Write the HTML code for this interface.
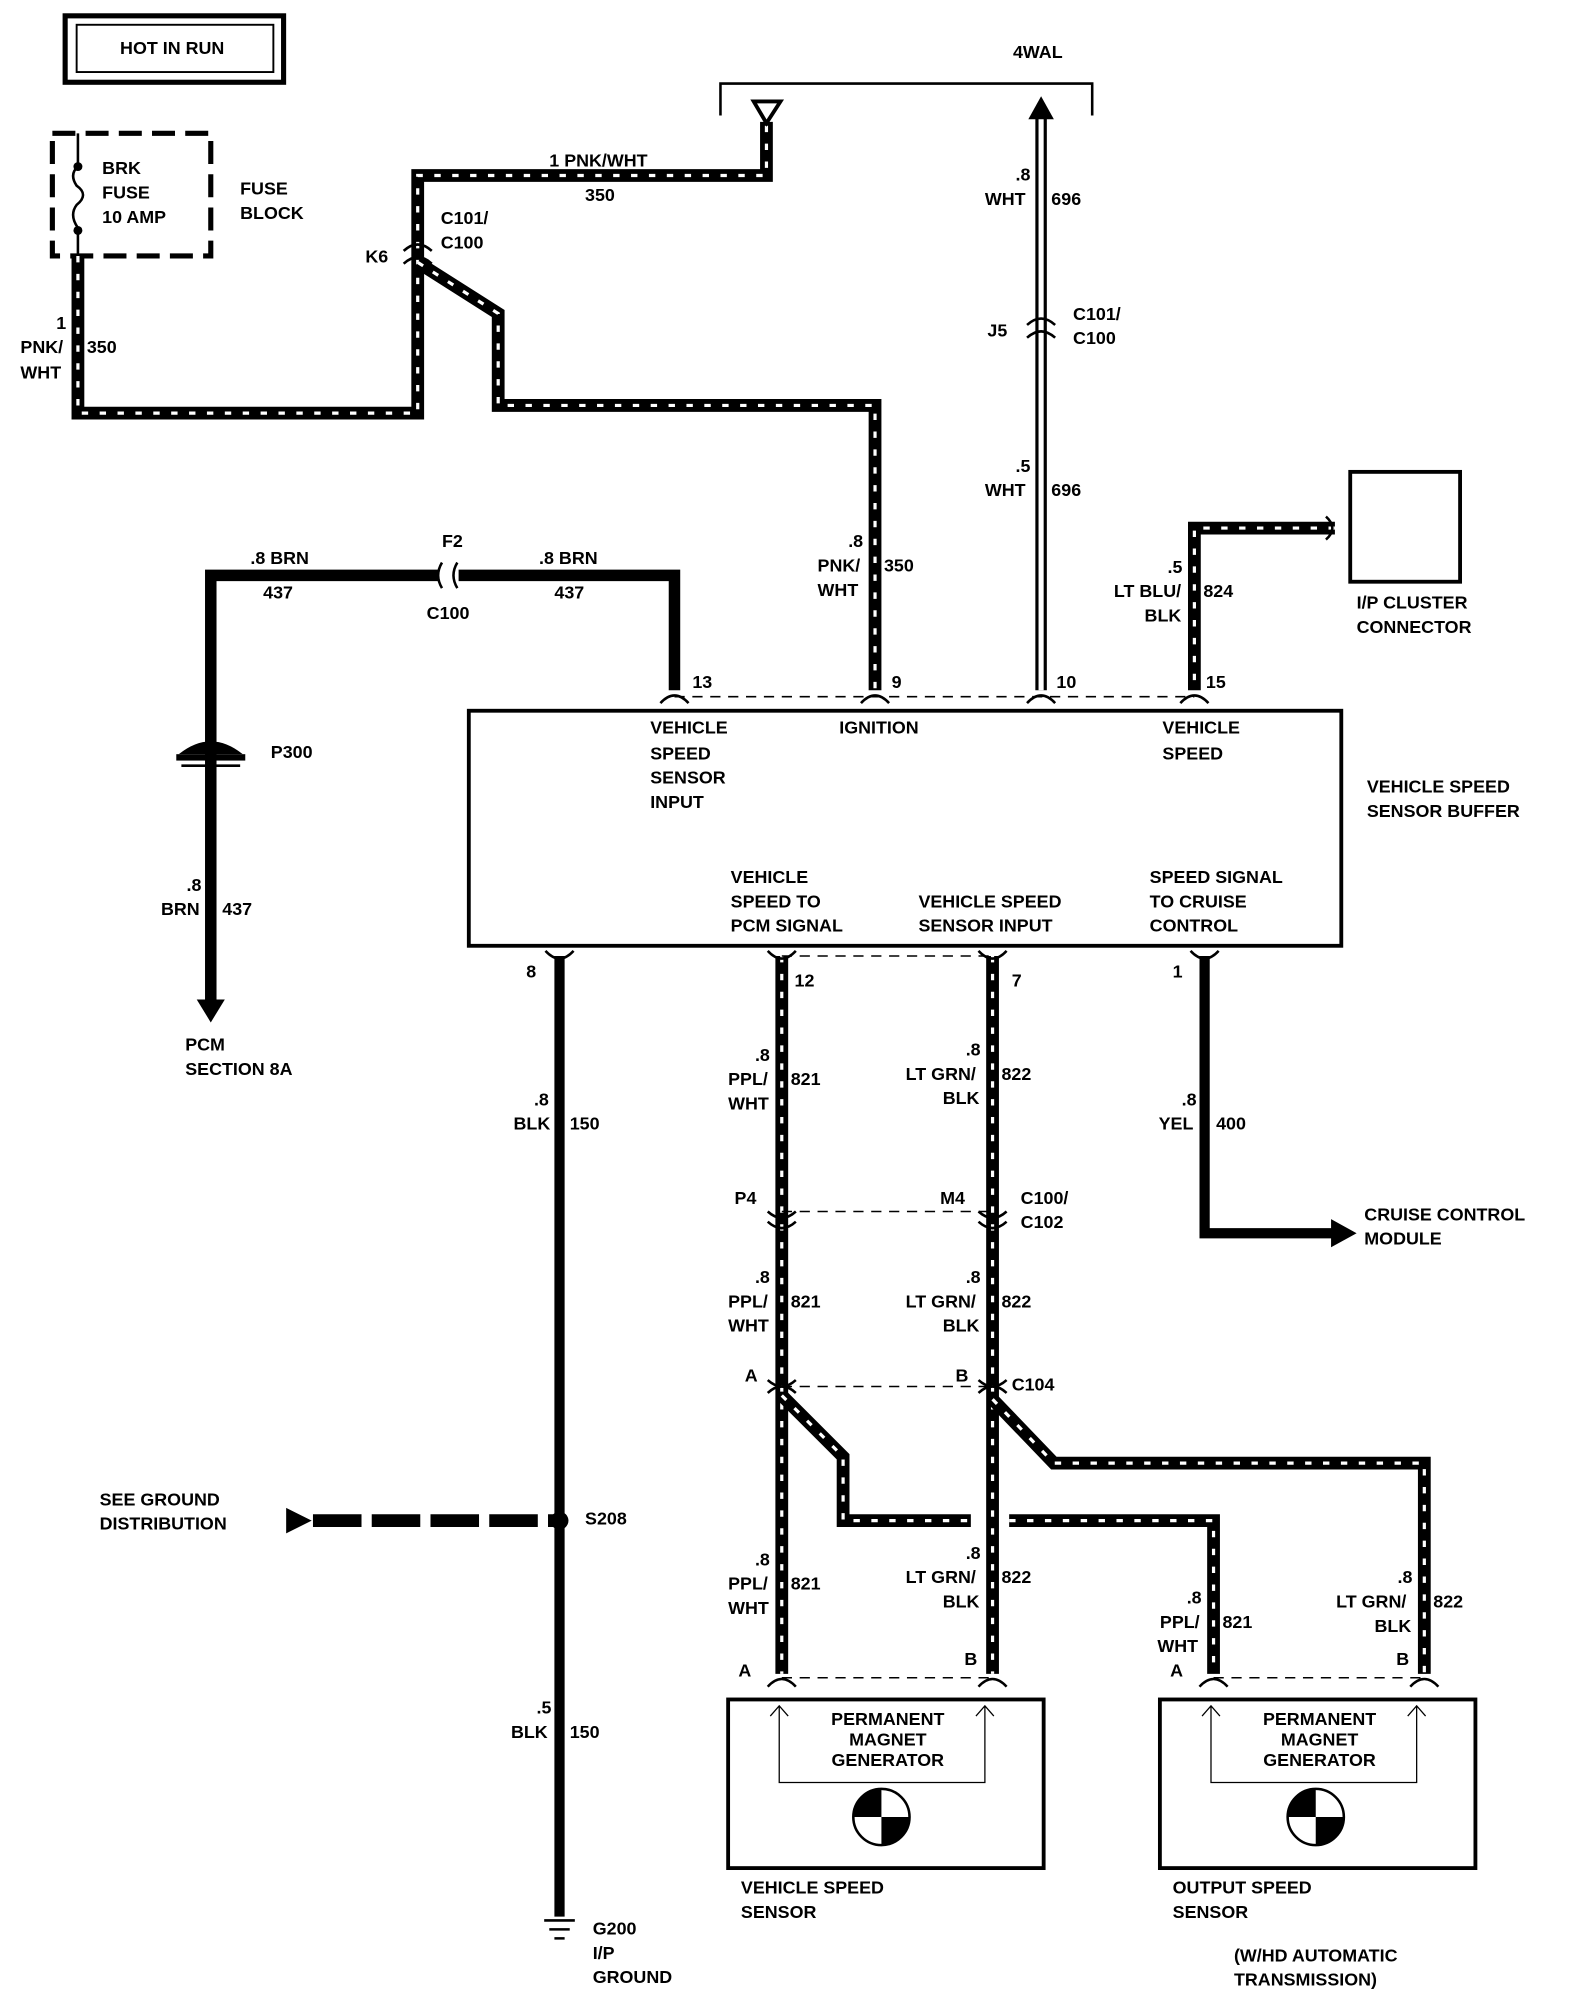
<!DOCTYPE html>
<html><head><meta charset="utf-8"><style>
html,body{margin:0;padding:0;background:#fff}
svg{display:block}
text{font-family:"Liberation Sans",Arial,sans-serif;font-size:14px;font-weight:bold;fill:#000}
.w{fill:none;stroke:#000;stroke-width:10;stroke-linejoin:miter}
.s{fill:none;stroke:#fff;stroke-width:2.5;stroke-dasharray:5 9}
.t{fill:none;stroke:#000;stroke-width:2}
.d{fill:none;stroke:#000;stroke-width:1.2;stroke-dasharray:8 6}
</style></head><body>
<svg width="1584" height="2004" viewBox="0 0 1240 1568" xmlns="http://www.w3.org/2000/svg">
<defs>
<path id="p350a" d="M61 200 V323 H327 V137 H600 V95"/>
<path id="p350b" d="M327 205 L390 245 V317 H685 V540"/>
<path id="p824" d="M1045 413 H935 V540"/>
<path id="p821" d="M612 748 V1310"/>
<path id="p822" d="M777 748 V1310"/>
<path id="p821b" d="M612 1092 L660 1140 V1190 H760"/>
<path id="p821c" d="M790 1190 H950 V1310"/>
<path id="p822b" d="M777 1095 L825 1145 H1115 V1310"/>
</defs>
<rect x="51" y="12" width="171" height="52" fill="none" stroke="#000" stroke-width="4"/>
<rect x="60" y="19" width="154" height="37" fill="none" stroke="#000" stroke-width="1.5"/>
<text x="94" y="42">HOT IN RUN</text>
<rect x="41" y="104" width="124" height="96" fill="none" stroke="#000" stroke-width="4" stroke-dasharray="18 8"/>
<path class="t" d="M61 104 V130 Q54 136 60 145 Q70 152 60 160 Q54 168 61 178 V200" />
<circle cx="61" cy="130" r="3.5"/><circle cx="61" cy="180" r="3.5"/>
<text x="80" y="136">BRK</text><text x="80" y="155">FUSE</text><text x="80" y="174">10 AMP</text>
<text x="188" y="152">FUSE</text><text x="188" y="171">BLOCK</text>
<path class="t" d="M564 90 V65 H855 V90" stroke-width="1.5"/>
<text x="793" y="45">4WAL</text>
<g>
<use href="#p350a" class="w"/><use href="#p350a" class="s"/>
<use href="#p350b" class="w"/><use href="#p350b" class="s"/>
<use href="#p824" class="w"/><use href="#p824" class="s"/>
<use href="#p821" class="w"/><use href="#p821" class="s"/>
<use href="#p822" class="w"/><use href="#p822" class="s"/>
<use href="#p821b" class="w"/><use href="#p821b" class="s"/>
<use href="#p821c" class="w"/><use href="#p821c" class="s"/>
<use href="#p822b" class="w"/><use href="#p822b" class="s"/>
</g>
<polygon points="590,79 611,79 600,96" fill="#fff" stroke="#000" stroke-width="3"/>
<text x="430" y="130">1 PNK/WHT</text><text x="458" y="157">350</text>
<text x="44" y="257">1</text><text x="16" y="276">PNK/</text><text x="16" y="296">WHT</text><text x="68" y="276">350</text>
<path class="t" d="M316 196 Q327 186 338 196 M316 206 Q327 196 338 206" stroke-width="2.5"/>
<text x="286" y="205">K6</text><text x="345" y="175">C101/</text><text x="345" y="194">C100</text>
<path d="M815 90 V540" stroke="#000" stroke-width="9" fill="none"/>
<path d="M815 88 V540" stroke="#fff" stroke-width="4" fill="none"/>
<polygon points="805,93 825,93 815,75" fill="#000"/>
<path class="t" d="M804 254 Q815 244 826 254 M804 264 Q815 254 826 264" stroke-width="2.5"/>
<text x="795" y="141">.8</text><text x="771" y="160">WHT</text><text x="823" y="160">696</text>
<text x="773" y="263">J5</text><text x="840" y="250">C101/</text><text x="840" y="269">C100</text>
<text x="795" y="369">.5</text><text x="771" y="388">WHT</text><text x="823" y="388">696</text>
<text x="664" y="428">.8</text><text x="640" y="447">PNK/</text><text x="640" y="466">WHT</text><text x="692" y="447">350</text>
<rect x="1057" y="369" width="86" height="86" fill="none" stroke="#000" stroke-width="3"/>
<path class="t" d="M1038 404 Q1048 413 1038 422" stroke-width="2.5"/>
<text x="1062" y="476">I/P CLUSTER</text><text x="1062" y="495">CONNECTOR</text>
<text x="914" y="448">.5</text><text x="872" y="467">LT BLU/</text><text x="896" y="486">BLK</text><text x="942" y="467">824</text>
<path d="M528 540 V450 H165 V785" stroke="#000" stroke-width="9" fill="none"/>
<polygon points="154,782 176,782 165,800" fill="#000"/>
<rect x="343" y="440" width="16" height="20" fill="#fff"/>
<path class="t" d="M346 440 Q340 450 346 460 M358 440 Q352 450 358 460" stroke-width="2.5"/>
<text x="196" y="441">.8 BRN</text><text x="206" y="468">437</text>
<text x="422" y="441">.8 BRN</text><text x="434" y="468">437</text>
<text x="346" y="428">F2</text><text x="334" y="484">C100</text>
<path d="M140 590 Q165 570 190 590 Z" fill="#000"/>
<rect x="138" y="590" width="54" height="5" fill="#000"/>
<path class="t" d="M142 599 H188" stroke-width="2"/>
<text x="212" y="593">P300</text>
<text x="146" y="697">.8</text><text x="126" y="716">BRN</text><text x="174" y="716">437</text>
<text x="145" y="822">PCM</text><text x="145" y="841">SECTION 8A</text>
<path class="d" d="M528 545 H935"/>
<g class="t" stroke-width="2.5">
<path d="M517 550 Q528 538 539 550"/><path d="M674 550 Q685 538 696 550"/>
<path d="M804 550 Q815 538 826 550"/><path d="M924 550 Q935 538 946 550"/>
</g>
<text x="542" y="538">13</text><text x="698" y="538">9</text><text x="827" y="538">10</text><text x="944" y="538">15</text>
<rect x="367" y="556" width="683" height="184" fill="none" stroke="#000" stroke-width="3"/>
<text x="509" y="574">VEHICLE</text><text x="509" y="594">SPEED</text><text x="509" y="613">SENSOR</text><text x="509" y="632">INPUT</text>
<text x="657" y="574">IGNITION</text>
<text x="910" y="574">VEHICLE</text><text x="910" y="594">SPEED</text>
<text x="572" y="691">VEHICLE</text><text x="572" y="710">SPEED TO</text><text x="572" y="729">PCM SIGNAL</text>
<text x="719" y="710">VEHICLE SPEED</text><text x="719" y="729">SENSOR INPUT</text>
<text x="900" y="691">SPEED SIGNAL</text><text x="900" y="710">TO CRUISE</text><text x="900" y="729">CONTROL</text>
<text x="1070" y="620">VEHICLE SPEED</text><text x="1070" y="639">SENSOR BUFFER</text>
<path class="d" d="M612 748 H777"/>
<g class="t" stroke-width="2.5">
<path d="M427 744 Q438 756 449 744"/><path d="M601 744 Q612 756 623 744"/>
<path d="M766 744 Q777 756 788 744"/><path d="M932 744 Q943 756 954 744"/>
</g>
<text x="412" y="765">8</text><text x="622" y="772">12</text><text x="792" y="772">7</text><text x="918" y="765">1</text>
<path d="M438 748 V1500" stroke="#000" stroke-width="8" fill="none"/>
<text x="418" y="865">.8</text><text x="402" y="884">BLK</text><text x="446" y="884">150</text>
<text x="420" y="1341">.5</text><text x="400" y="1360">BLK</text><text x="446" y="1360">150</text>
<path class="t" d="M426 1503 H450 M430 1510 H446 M434 1517 H442" stroke-width="2.5"/>
<text x="464" y="1514">G200</text><text x="464" y="1533">I/P</text><text x="464" y="1552">GROUND</text>
<path d="M245 1190 H438" stroke="#000" stroke-width="10" stroke-dasharray="38 8" fill="none"/>
<polygon points="224,1180 224,1200 244,1190" fill="#000"/>
<circle cx="438" cy="1190" r="7"/>
<text x="458" y="1193">S208</text>
<text x="78" y="1178">SEE GROUND</text><text x="78" y="1197">DISTRIBUTION</text>
<path d="M943 748 V965 H1045" stroke="#000" stroke-width="8" fill="none"/>
<polygon points="1042,954 1042,976 1062,965" fill="#000"/>
<text x="925" y="865">.8</text><text x="907" y="884">YEL</text><text x="952" y="884">400</text>
<text x="1068" y="955">CRUISE CONTROL</text><text x="1068" y="974">MODULE</text>
<text x="591" y="830">.8</text><text x="570" y="849">PPL/</text><text x="570" y="868">WHT</text><text x="619" y="849">821</text>
<text x="756" y="826">.8</text><text x="709" y="845">LT GRN/</text><text x="738" y="864">BLK</text><text x="784" y="845">822</text>
<path class="d" d="M612 948 H777"/>
<g class="t" stroke-width="2.5">
<path d="M601 948 Q612 958 623 948 M601 956 Q612 966 623 956"/>
<path d="M766 948 Q777 958 788 948 M766 956 Q777 966 788 956"/>
</g>
<text x="575" y="942">P4</text><text x="736" y="942">M4</text><text x="799" y="942">C100/</text><text x="799" y="961">C102</text>
<text x="591" y="1004">.8</text><text x="570" y="1023">PPL/</text><text x="570" y="1042">WHT</text><text x="619" y="1023">821</text>
<text x="756" y="1004">.8</text><text x="709" y="1023">LT GRN/</text><text x="738" y="1042">BLK</text><text x="784" y="1023">822</text>
<path class="d" d="M612 1085 H777"/>
<g class="t" stroke-width="2.5">
<path d="M601 1080 Q612 1090 623 1080 M601 1090 Q612 1080 623 1090"/>
<path d="M766 1080 Q777 1090 788 1080 M766 1090 Q777 1080 788 1090"/>
</g>
<text x="583" y="1081">A</text><text x="748" y="1081">B</text><text x="792" y="1088">C104</text>
<text x="591" y="1225">.8</text><text x="570" y="1244">PPL/</text><text x="570" y="1263">WHT</text><text x="619" y="1244">821</text>
<text x="756" y="1220">.8</text><text x="709" y="1239">LT GRN/</text><text x="738" y="1258">BLK</text><text x="784" y="1239">822</text>
<text x="929" y="1255">.8</text><text x="908" y="1274">PPL/</text><text x="906" y="1293">WHT</text><text x="957" y="1274">821</text>
<text x="1094" y="1239">.8</text><text x="1046" y="1258">LT GRN/</text><text x="1076" y="1277">BLK</text><text x="1122" y="1258">822</text>
<path class="d" d="M612 1313 H777 M950 1313 H1115"/>
<g class="t" stroke-width="2.5">
<path d="M601 1320 Q612 1308 623 1320"/><path d="M766 1320 Q777 1308 788 1320"/>
<path d="M939 1320 Q950 1308 961 1320"/><path d="M1104 1320 Q1115 1308 1126 1320"/>
</g>
<text x="578" y="1312">A</text><text x="755" y="1303">B</text><text x="916" y="1312">A</text><text x="1093" y="1303">B</text>
<g>
<rect x="570" y="1330" width="247" height="132" fill="none" stroke="#000" stroke-width="3"/>
<path d="M610 1335 V1395 H771 V1335 M603 1343 L610 1335 L617 1343 M764 1343 L771 1335 L778 1343" fill="none" stroke="#000" stroke-width="1"/>
<text x="695" y="1350" text-anchor="middle">PERMANENT</text><text x="695" y="1366" text-anchor="middle">MAGNET</text><text x="695" y="1382" text-anchor="middle">GENERATOR</text>
<circle cx="690" cy="1422" r="22" fill="#fff" stroke="#000" stroke-width="2"/>
<path d="M690 1400 A22 22 0 0 0 668 1422 H690 Z M690 1444 A22 22 0 0 0 712 1422 H690 Z" fill="#000"/>
<text x="580" y="1482">VEHICLE SPEED</text><text x="580" y="1501">SENSOR</text>
</g>
<g>
<rect x="908" y="1330" width="247" height="132" fill="none" stroke="#000" stroke-width="3"/>
<path d="M948 1335 V1395 H1109 V1335 M941 1343 L948 1335 L955 1343 M1102 1343 L1109 1335 L1116 1343" fill="none" stroke="#000" stroke-width="1"/>
<text x="1033" y="1350" text-anchor="middle">PERMANENT</text><text x="1033" y="1366" text-anchor="middle">MAGNET</text><text x="1033" y="1382" text-anchor="middle">GENERATOR</text>
<circle cx="1030" cy="1422" r="22" fill="#fff" stroke="#000" stroke-width="2"/>
<path d="M1030 1400 A22 22 0 0 0 1008 1422 H1030 Z M1030 1444 A22 22 0 0 0 1052 1422 H1030 Z" fill="#000"/>
<text x="918" y="1482">OUTPUT SPEED</text><text x="918" y="1501">SENSOR</text>
</g>
<text x="966" y="1535">(W/HD AUTOMATIC</text><text x="966" y="1554">TRANSMISSION)</text>
</svg>
</body></html>
